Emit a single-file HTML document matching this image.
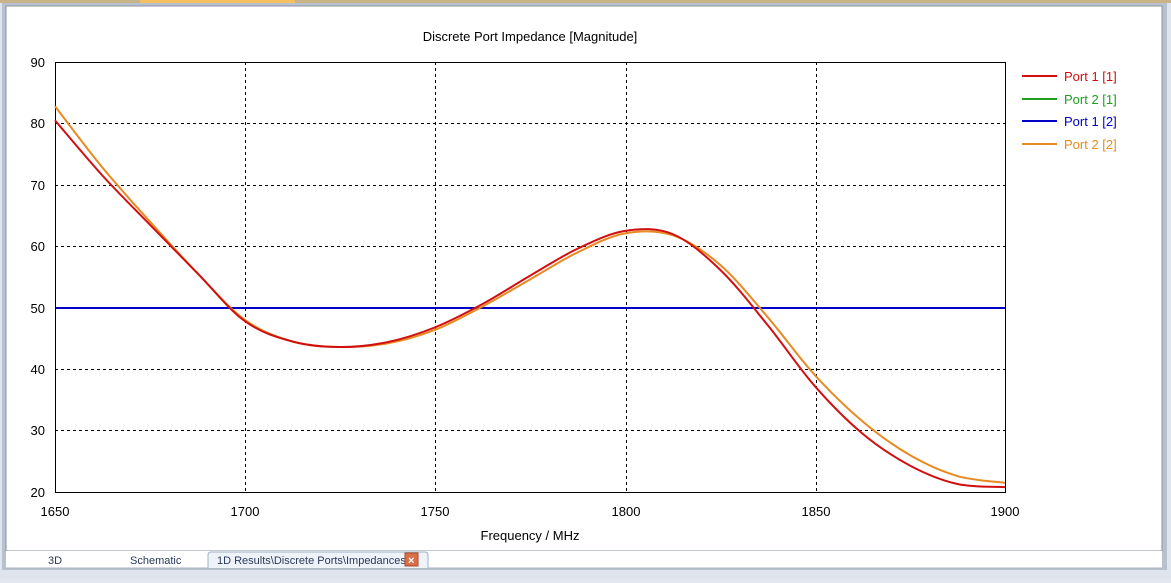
<!DOCTYPE html>
<html><head><meta charset="utf-8"><style>
body{margin:0;width:1171px;height:578px;background:#e3e8f0;overflow:hidden;font-family:"Liberation Sans",sans-serif}
</style></head><body>
<svg width="1171" height="578" xmlns="http://www.w3.org/2000/svg" font-family="Liberation Sans, sans-serif">
<rect x="0" y="0" width="1171" height="578" fill="#dfe5ee"/>
<rect x="0" y="0" width="1171" height="3" fill="#c9b48a"/>
<rect x="140" y="0" width="155" height="3" fill="#f5c060"/>
<rect x="2" y="3" width="1165" height="567" fill="#b8c2cf"/>
<rect x="6" y="6" width="1156" height="545" fill="#fff" stroke="#8a93a0"/>
<rect x="6" y="551" width="1156" height="17" fill="#fff"/>
<line x1="6" y1="568" x2="1162" y2="568" stroke="#a9b4c2"/>
<path d="M208 568 V555 q0 -3 3 -3 H425 q3 0 3 3 V568" fill="#eef3fa" stroke="#a0b0c8"/>
<text x="48" y="564" font-size="11" fill="#2a3a5a">3D</text>
<text x="130" y="564" font-size="11" fill="#2a3a5a">Schematic</text>
<text x="217" y="564" font-size="11" fill="#2a3a5a">1D Results\Discrete Ports\Impedances</text>
<rect x="405" y="553" width="13" height="13" fill="#d9704a" stroke="#b04a2a"/>
<text x="408" y="564" font-size="11" fill="#fff" font-weight="bold">×</text>
<text x="530" y="41" font-size="13" text-anchor="middle">Discrete Port Impedance [Magnitude]</text>
<g stroke="#000" stroke-dasharray="3,3" stroke-width="1">
<line x1="245.5" y1="62" x2="245.5" y2="492"/><line x1="435.5" y1="62" x2="435.5" y2="492"/>
<line x1="626.5" y1="62" x2="626.5" y2="492"/><line x1="816.5" y1="62" x2="816.5" y2="492"/>
<line x1="55" y1="123.5" x2="1005" y2="123.5"/><line x1="55" y1="185.5" x2="1005" y2="185.5"/>
<line x1="55" y1="246.5" x2="1005" y2="246.5"/><line x1="55" y1="369.5" x2="1005" y2="369.5"/>
<line x1="55" y1="430.5" x2="1005" y2="430.5"/>
</g>
<rect x="55.5" y="62.5" width="950" height="430" fill="none" stroke="#000"/>
<g font-size="13" text-anchor="end">
<text x="45" y="67">90</text><text x="45" y="128">80</text><text x="45" y="190">70</text>
<text x="45" y="251">60</text><text x="45" y="313">50</text><text x="45" y="374">40</text>
<text x="45" y="435">30</text><text x="45" y="497">20</text>
</g>
<g font-size="13" text-anchor="middle">
<text x="55" y="516">1650</text><text x="245" y="516">1700</text><text x="435" y="516">1750</text>
<text x="626" y="516">1800</text><text x="816" y="516">1850</text><text x="1005" y="516">1900</text>
</g>
<text x="530" y="540" font-size="13" text-anchor="middle">Frequency / MHz</text>
<line x1="56" y1="308" x2="1005" y2="308" stroke="#0000c8" stroke-width="2"/>
<path id="orange" fill="none" stroke="#e88a20" stroke-width="2"/>
<path id="green" fill="none" stroke="#20a020" stroke-width="2" opacity="0"/>
<path id="red" fill="none" stroke="#d01010" stroke-width="2"/>
<g font-size="13">
<line x1="1022" y1="76" x2="1057" y2="76" stroke="#d01010" stroke-width="2"/><text x="1064" y="81" fill="#d01010">Port 1 [1]</text>
<line x1="1022" y1="99" x2="1057" y2="99" stroke="#20a020" stroke-width="2"/><text x="1064" y="104" fill="#20a020">Port 2 [1]</text>
<line x1="1022" y1="121" x2="1057" y2="121" stroke="#0000c8" stroke-width="2"/><text x="1064" y="126" fill="#0000c8">Port 1 [2]</text>
<line x1="1022" y1="144" x2="1057" y2="144" stroke="#e88a20" stroke-width="2"/><text x="1064" y="149" fill="#e88a20">Port 2 [2]</text>
</g>
</svg>
<script>
function X(f){return 55+(f-1650)*3.8}function Y(v){return 492-(v-20)*6.143}
function path(d){var p=d.map(function(a){return[X(a[0]),Y(a[1])]});var s="M"+p[0][0]+" "+p[0][1];
for(var i=0;i<p.length-1;i++){var p0=p[i-1]||p[i],p1=p[i],p2=p[i+1],p3=p[i+2]||p2;
s+=" C"+(p1[0]+(p2[0]-p0[0])/6)+" "+(p1[1]+(p2[1]-p0[1])/6)+" "+(p2[0]-(p3[0]-p1[0])/6)+" "+(p2[1]-(p3[1]-p1[1])/6)+" "+p2[0]+" "+p2[1];}return s;}
function mk(v){return v.map(function(y,i){return[1650+12.5*i,y]})}
var red=mk([80.5,71.5,63.5,55.6,47.8,44.5,43.6,44.4,46.8,50.6,55.2,59.6,62.5,62.0,56.2,47.2,37.2,29.5,24.3,21.3,20.8]);
var org=mk([82.8,72.8,64.0,55.6,48.0,44.5,43.6,44.2,46.4,50.2,54.6,59.0,62.1,61.8,57.0,48.5,39.0,31.5,26.0,22.6,21.5]);
document.getElementById("red").setAttribute("d",path(red));
document.getElementById("orange").setAttribute("d",path(org));
document.getElementById("green").setAttribute("d",path(org));
</script>
</body></html>
